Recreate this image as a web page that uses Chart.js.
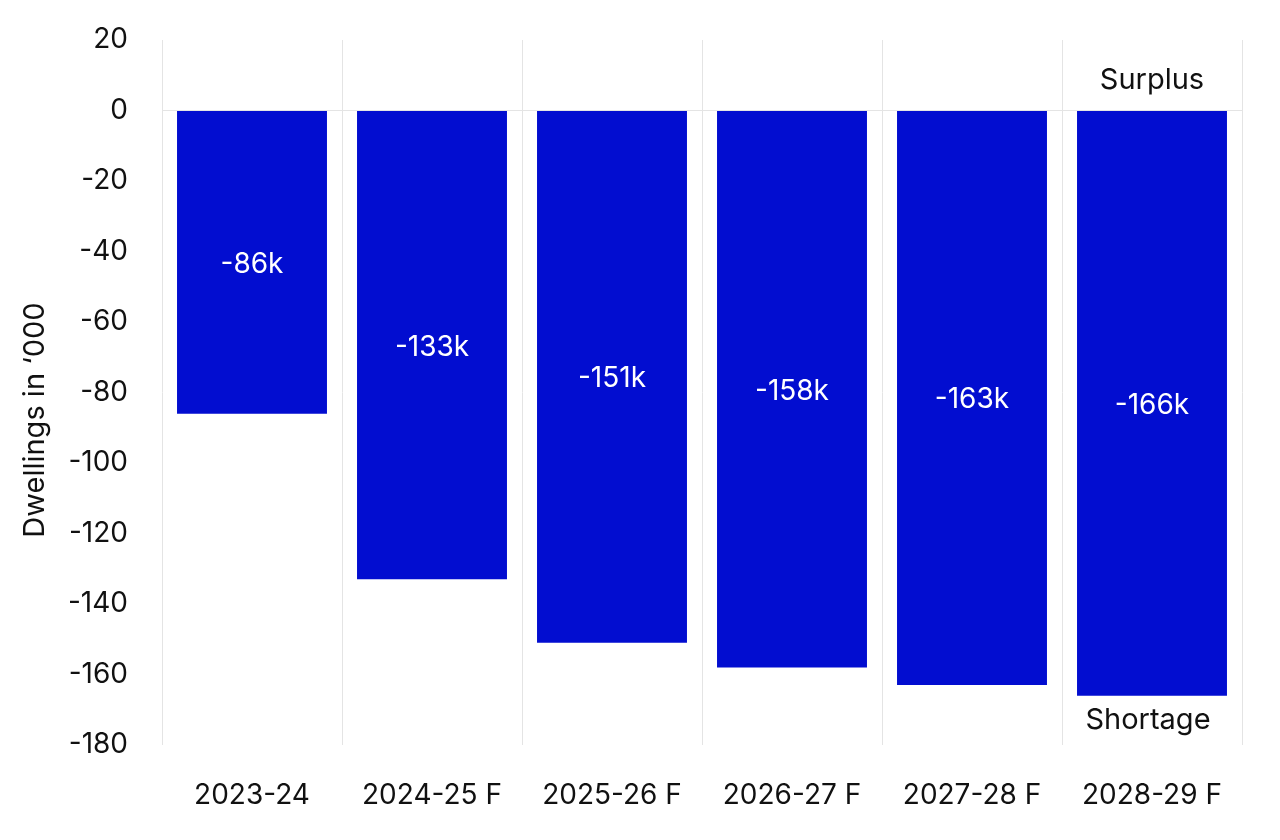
<!DOCTYPE html>
<html>
<head>
<meta charset="utf-8">
<script src="https://cdn.jsdelivr.net/npm/chart.js@4"></script>
<style>
  html, body { margin: 0; padding: 0; background: #fff; }
  #wrap { width: 1280px; height: 840px; }
</style>
</head>
<body>
<div id="wrap"><canvas id="gapChart" width="1280" height="840"></canvas></div>
<script>
// Data
const years = ['2023-24', '2024-25 F', '2025-26 F', '2026-27 F', '2027-28 F', '2028-29 F'];
const shortfall = [-86, -133, -151, -158, -163, -166];
const barLabels = ['-86k', '-133k', '-151k', '-158k', '-163k', '-166k'];
const yTicks = [20, 0, -20, -40, -60, -80, -100, -120, -140, -160, -180];
const yTitle = 'Dwellings in ‘000';

const FONT = 'Inter, "Noto Sans", sans-serif';
const BLUE = '#020dd0';

// labels inside bars + surplus / shortage notes + axis title
const textPlugin = {
    id: 'textPlugin',
    afterDatasetsDraw(chart) {
        const ctx = chart.ctx;
        const meta = chart.getDatasetMeta(0);
        const y = chart.scales.y;
        ctx.save();
        ctx.font = '28px ' + FONT;
        ctx.textAlign = 'center';
        ctx.textBaseline = 'middle';
        ctx.fillStyle = '#ffffff';
        meta.data.forEach((bar, i) => {
            ctx.fillText(barLabels[i], bar.x, (bar.y + bar.base) / 2 + 2);
        });
        const last = meta.data[meta.data.length - 1];
        ctx.fillStyle = '#111111';
        ctx.font = '29px ' + FONT;
        ctx.fillText('Surplus', last.x, y.getPixelForValue(8.5));
        ctx.fillText('Shortage', last.x - 4, y.getPixelForValue(-173));

        // y title, centred on the canvas height like the original
        ctx.translate(35, chart.height / 2);
        ctx.rotate(-Math.PI / 2);
        ctx.fillText(yTitle, 0, 0);
        ctx.restore();
    }
};

new Chart(document.getElementById('gapChart'), {
    type: 'bar',
    data: {
        labels: years,
        datasets: [{
            data: shortfall,
            backgroundColor: BLUE,
            borderWidth: 0,
            barPercentage: 0.833,
            categoryPercentage: 1.0
        }]
    },
    options: {
        responsive: false,
        animation: false,
        layout: { padding: { left: 8, right: 38, top: 40, bottom: 0 } },
        plugins: {
            legend: { display: false },
            tooltip: { enabled: false }
        },
        scales: {
            x: {
                grid: { color: '#e4e4e4', lineWidth: 1, drawTicks: false, offset: true },
                border: { display: false },
                ticks: { color: '#111', font: { family: FONT, size: 28 }, padding: 34 },
                afterFit(scale) { scale.height = 95; }
            },
            y: {
                min: -180,
                max: 20,
                afterBuildTicks(scale) { scale.ticks = yTicks.map(v => ({ value: v })); },
                grid: {
                    drawTicks: false,
                    color: c => (c.tick && c.tick.value === 0) ? '#e4e4e4' : 'rgba(0,0,0,0)'
                },
                border: { display: false },
                ticks: { color: '#111', font: { family: FONT, size: 28 }, padding: 34 },
                afterFit(scale) {
                    scale.width = 154;
                    scale.paddingTop = 0;
                    scale.paddingBottom = 0;
                }
            }
        }
    },
    plugins: [textPlugin]
});
</script>
</body>
</html>
